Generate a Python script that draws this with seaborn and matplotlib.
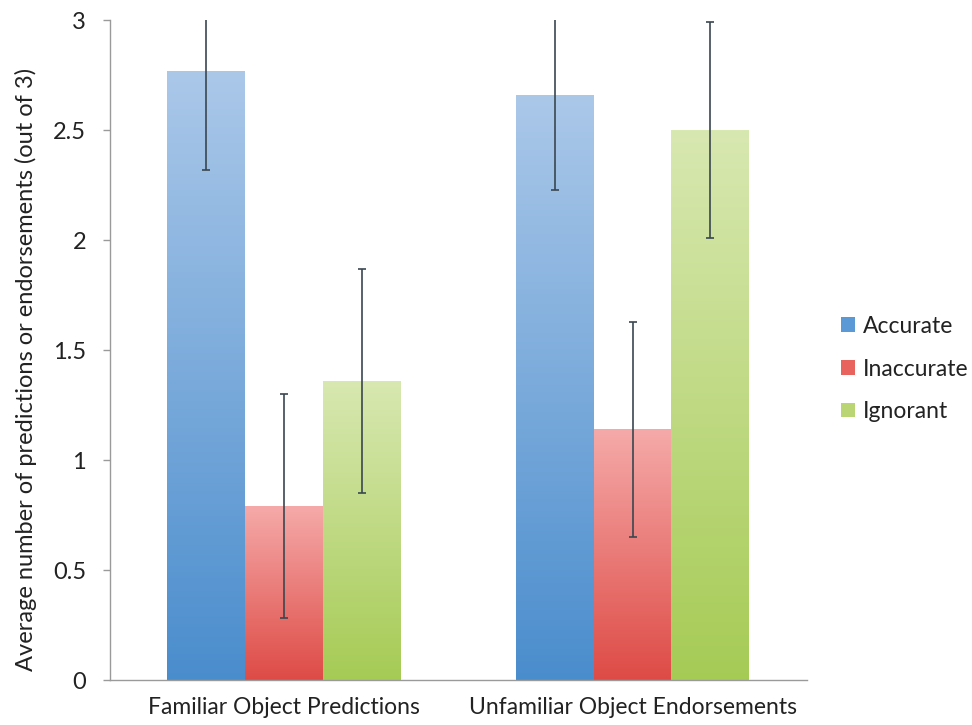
import numpy as np
import pandas as pd
import matplotlib
matplotlib.use("Agg")
import matplotlib.pyplot as plt
import seaborn as sns
from matplotlib.patches import Patch
from matplotlib.colors import LinearSegmentedColormap

categories = ["Familiar Object Predictions", "Unfamiliar Object Endorsements"]
conditions = ["Accurate", "Inaccurate", "Ignorant"]
values = {
    "Accurate":   [2.77, 2.66],
    "Inaccurate": [0.79, 1.14],
    "Ignorant":   [1.36, 2.50],
}
errors = {
    "Accurate":   [0.45, 0.43],
    "Inaccurate": [0.51, 0.49],
    "Ignorant":   [0.51, 0.49],
}
yticks = [0, 0.5, 1, 1.5, 2, 2.5, 3]
ytick_labels = ["0", "0.5", "1", "1.5", "2", "2.5", "3"]

grad_colors = {
    "Accurate":   ("#4a8dcd", "#abc8e9"),
    "Inaccurate": ("#de4b46", "#f5aaa9"),
    "Ignorant":   ("#a6cb55", "#d8e8b1"),
}
legend_colors = {"Accurate": "#5b98d6", "Inaccurate": "#e8625e", "Ignorant": "#b9d574"}

rows = []
for c in conditions:
    for i, cat in enumerate(categories):
        rows.append({"category": cat, "condition": c, "value": values[c][i]})
df = pd.DataFrame(rows)

sns.set_style("white")
plt.rcParams["font.family"] = ["Lato", "DejaVu Sans"]
text_color = "#222222"

fig = plt.figure(figsize=(9.72, 7.25), dpi=100)
fig.patch.set_facecolor("white")
ax = fig.add_axes([0.113, 0.062, 0.717, 0.910])

sns.barplot(data=df, x="category", y="value", hue="condition", order=categories,
            hue_order=conditions, width=0.67, gap=0, errorbar=None, legend=False,
            palette=[legend_colors[c] for c in conditions], ax=ax, saturation=1)

grad = np.linspace(0, 1, 256).reshape(-1, 1)
for cond, cont in zip(conditions, ax.containers):
    cmap = LinearSegmentedColormap.from_list(cond, list(grad_colors[cond]))
    for i, bar in enumerate(cont):
        x0 = bar.get_x(); w = bar.get_width(); h = bar.get_height()
        bar.set_edgecolor("none")
        im = ax.imshow(grad, extent=(x0, x0 + w, 0, h), origin="lower",
                       aspect="auto", cmap=cmap, zorder=bar.get_zorder() + 0.1)
        im.set_clip_path(bar)
        ax.errorbar(x0 + w / 2, h, yerr=errors[cond][i], fmt="none",
                    ecolor="#3a4750", elinewidth=1.2, capsize=3, capthick=1.2,
                    zorder=5)

ax.set_xlim(-0.5, 1.5)
ax.set_ylim(0, 3)
ax.set_yticks(yticks)
ax.set_yticklabels(ytick_labels, fontsize=17, color=text_color)
ax.set_xticks([0, 1])
ax.set_xticklabels(categories, fontsize=16.5, color=text_color)
ax.set_xticks([-0.5, 0.5, 1.5], minor=True)
ax.tick_params(axis="x", which="major", length=0, pad=12)
ax.tick_params(axis="x", which="minor", length=5, color="#9a9a9a", width=1, direction="out")
ax.tick_params(axis="y", length=5, color="#9a9a9a", width=1, direction="out", left=True, pad=12)
ax.set_xlabel("")
ax.set_ylabel("Average number of predictions or endorsements (out of 3)", fontsize=17, color=text_color)
ax.yaxis.set_label_coords(-0.105, 0.471)
for s in ["top", "right"]:
    ax.spines[s].set_visible(False)
for s in ["left", "bottom"]:
    ax.spines[s].set_color("#9a9a9a")
    ax.spines[s].set_linewidth(1)

handles = [Patch(facecolor=legend_colors[c], edgecolor="none", label=c) for c in conditions]
leg = fig.legend(handles=handles, loc="center left", bbox_to_anchor=(0.865, 0.491), frameon=False,
                 fontsize=16.5, handlelength=0.6, handleheight=0.6, handletextpad=0.35,
                 labelspacing=0.95, borderpad=0, borderaxespad=0)
for t in leg.get_texts():
    t.set_color(text_color)

fig.savefig("out.png", dpi=100, facecolor="white")
